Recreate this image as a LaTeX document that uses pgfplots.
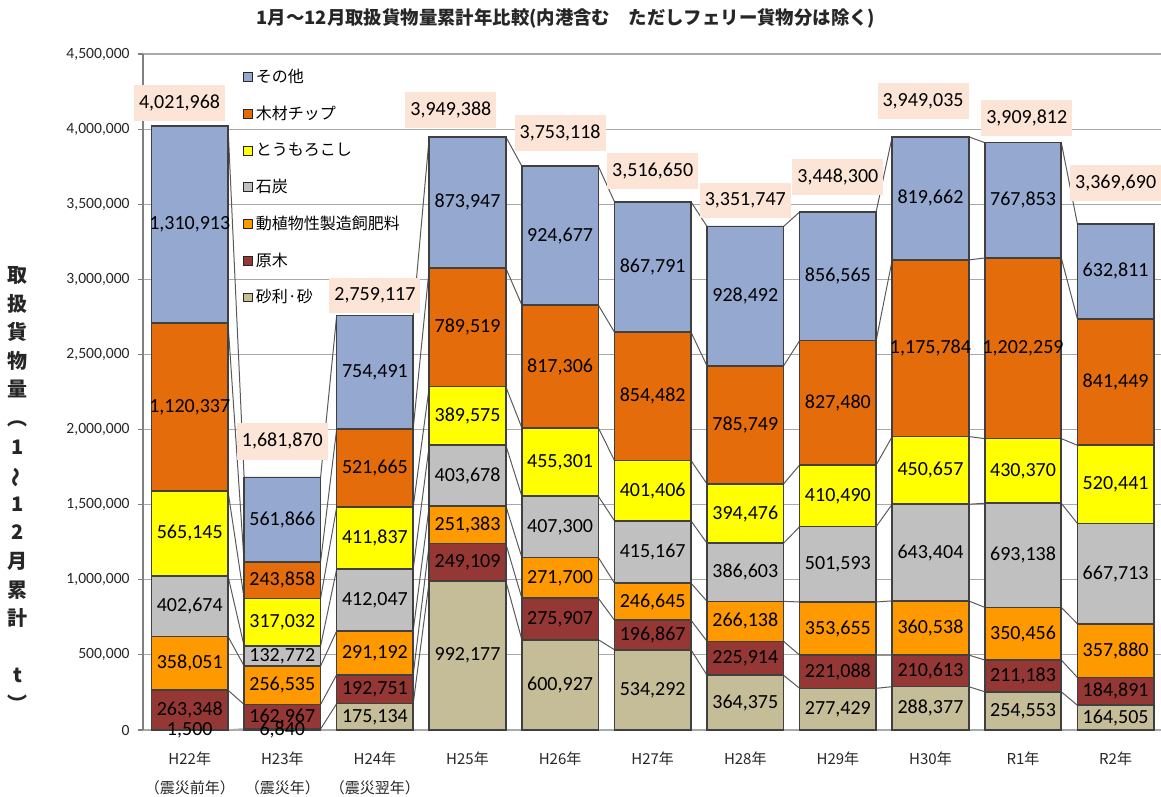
\documentclass[border=0pt]{standalone}
\usepackage{pgfplots}
\usepackage{pgfplotstable}
\usepackage{graphicx}
\usepackage{fontspec}
\pgfplotsset{compat=1.18}
\setmainfont{Carlito}
\newfontfamily\cjk{Noto Sans CJK JP}

\definecolor{cOther}{RGB}{148,168,208}
\definecolor{cChip}{RGB}{228,108,10}
\definecolor{cCorn}{RGB}{255,255,0}
\definecolor{cCoal}{RGB}{192,192,192}
\definecolor{cFeed}{RGB}{255,153,0}
\definecolor{cLog}{RGB}{149,55,53}
\definecolor{cSand}{RGB}{196,189,151}
\definecolor{cBox}{RGB}{252,228,214}
\definecolor{cEdge}{RGB}{64,64,64}
\definecolor{cGrid}{RGB}{170,170,170}
\definecolor{cConn}{RGB}{90,90,90}

\pgfkeys{/pgf/number format/.cd, fixed, precision=0, 1000 sep={,}, assume math mode=true}

% raw values, bottom to top: 砂利・砂, 原木, 動植物性製造飼肥料, 石炭, とうもろこし, 木材チップ, その他
\pgfplotstableread{
idx v1 v2 v3 v4 v5 v6 v7
0 1500 263348 358051 402674 565145 1120337 1310913
1 6840 162967 256535 132772 317032 243858 561866
2 175134 192751 291192 412047 411837 521665 754491
3 992177 249109 251383 403678 389575 789519 873947
4 600927 275907 271700 407300 455301 817306 924677
5 534292 196867 246645 415167 401406 854482 867791
6 364375 225914 266138 386603 394476 785749 928492
7 277429 221088 353655 501593 410490 827480 856565
8 288377 210613 360538 643404 450657 1175784 819662
9 254553 211183 350456 693138 430370 1202259 767853
10 164505 184891 357880 667713 520441 841449 632811
}\data

% cumulative tops at bar edges (series lines)
\pgfplotstableread{
x c1 c2 c3 c4 c5 c6 c7
-0.413 1500 264848 622899 1025573 1590718 2711055 4021968
0.413 1500 264848 622899 1025573 1590718 2711055 4021968
0.587 6840 169807 426342 559114 876146 1120004 1681870
1.413 6840 169807 426342 559114 876146 1120004 1681870
1.587 175134 367885 659077 1071124 1482961 2004626 2759117
2.413 175134 367885 659077 1071124 1482961 2004626 2759117
2.587 992177 1241286 1492669 1896347 2285922 3075441 3949388
3.413 992177 1241286 1492669 1896347 2285922 3075441 3949388
3.587 600927 876834 1148534 1555834 2011135 2828441 3753118
4.413 600927 876834 1148534 1555834 2011135 2828441 3753118
4.587 534292 731159 977804 1392971 1794377 2648859 3516650
5.413 534292 731159 977804 1392971 1794377 2648859 3516650
5.587 364375 590289 856427 1243030 1637506 2423255 3351747
6.413 364375 590289 856427 1243030 1637506 2423255 3351747
6.587 277429 498517 852172 1353765 1764255 2591735 3448300
7.413 277429 498517 852172 1353765 1764255 2591735 3448300
7.587 288377 498990 859528 1502932 1953589 3129373 3949035
8.413 288377 498990 859528 1502932 1953589 3129373 3949035
8.587 254553 465736 816192 1509330 1939700 3141959 3909812
9.413 254553 465736 816192 1509330 1939700 3141959 3909812
9.587 164505 349396 707276 1374989 1895430 2736879 3369690
10.413 164505 349396 707276 1374989 1895430 2736879 3369690
}\conn

\pgfplotstableread{
x y total
-0.11 4175000 4021968
1 1921000 1681870
2 2892000 2759117
2.82 4129000 3949388
4 3973000 3753118
5 3723000 3516650
6 3525000 3351747
7 3681000 3448300
7.92 4188000 3949035
9.04 4076000 3909812
10 3642000 3369690
}\totals

\pgfplotsset{
  base/.style={
    scale only axis, width=509pt, height=338pt,
    xmin=-0.505, xmax=10.49, ymin=0, ymax=4500000,
    enlargelimits=false, scaled y ticks=false, scaled x ticks=false,
    at={(0,0)}, anchor=south west,
  },
  seglabel/.style={
    draw=none, no marks, nodes near coords,
    point meta=explicit symbolic,
    nodes near coords={\pgfmathprintnumber{\pgfplotspointmeta}},
    every node near coord/.append style={anchor=center, font=\fontsize{10}{12}\selectfont, text=black, inner sep=0pt},
  },
}

\begin{document}
\begin{tikzpicture}
\useasboundingbox (-71.5pt,-33.5pt) rectangle (509pt,365pt);

% background: grid and series lines
\begin{axis}[base,
  ymajorgrids, grid style={cGrid, line width=0.6pt},
  ytick={0,500000,1000000,1500000,2000000,2500000,3000000,3500000,4000000,4500000},
  yticklabels={}, xtick=\empty,
  axis line style={draw=none}, tick style={draw=none},
]
\pgfplotsinvokeforeach{1,...,7}{
  \addplot[cConn, line width=0.5pt, no marks] table[x=x, y=c#1]{\conn};
}
\end{axis}

% bars, axes, legend
\begin{axis}[base,
  ybar stacked, bar width=0.826,
  axis x line*=bottom, axis y line*=left,
  x axis line style={cGrid, line width=1.2pt},
  y axis line style={black!50, line width=0.6pt},
  tick align=outside, major tick length=2.5pt,
  ytick={0,500000,1000000,1500000,2000000,2500000,3000000,3500000,4000000,4500000},
  ytick style={black!50, line width=0.6pt},
  yticklabel style={font=\fontsize{7.8}{9}\selectfont, text=black!85, anchor=east, inner sep=0pt, xshift=-4pt},
  xtick={0,1,2,3,4,5,6,7,8,9,10},
  xtick style={draw=none},
  xticklabels={{H22年\\（震災前年）},{H23年\\（震災年）},{H24年\\（震災翌年）},H25年,H26年,H27年,H28年,H29年,H30年,R1年,R2年},
  xticklabel style={font=\cjk\fontsize{7.5}{14.5}\selectfont, align=center, anchor=north, inner sep=0pt, yshift=-8pt, text=black!85},
  legend style={at={(0.092,0.99)}, anchor=north west, draw=none, fill=none,
    font=\cjk\fontsize{8}{9}\selectfont, row sep=6.2pt,
    nodes={inner xsep=1.5pt}},
  legend cell align=left, reverse legend,
  legend image code/.code={\draw[#1, draw=black!85, line width=0.5pt] (0pt,-2.2pt) rectangle (4.4pt,2.2pt);},
]
\addplot[fill=cSand, draw=cEdge, line width=0.8pt] table[x=idx, y=v1]{\data};
\addlegendentry{砂利·砂}
\addplot[fill=cLog, draw=cEdge, line width=0.8pt] table[x=idx, y=v2]{\data};
\addlegendentry{原木}
\addplot[fill=cFeed, draw=cEdge, line width=0.8pt] table[x=idx, y=v3]{\data};
\addlegendentry{動植物性製造飼肥料}
\addplot[fill=cCoal, draw=cEdge, line width=0.8pt] table[x=idx, y=v4]{\data};
\addlegendentry{石炭}
\addplot[fill=cCorn, draw=cEdge, line width=0.8pt] table[x=idx, y=v5]{\data};
\addlegendentry{とうもろこし}
\addplot[fill=cChip, draw=cEdge, line width=0.8pt] table[x=idx, y=v6]{\data};
\addlegendentry{木材チップ}
\addplot[fill=cOther, draw=cEdge, line width=0.8pt] table[x=idx, y=v7]{\data};
\addlegendentry{その他}
\end{axis}

% labels
\begin{axis}[base, hide axis, clip=false]
\addplot[seglabel] table[x=idx, y expr=\thisrow{v1}/2, meta=v1]{\data};
\addplot[seglabel] table[x=idx, y expr=\thisrow{v1}+\thisrow{v2}/2, meta=v2]{\data};
\addplot[seglabel] table[x=idx, y expr=\thisrow{v1}+\thisrow{v2}+\thisrow{v3}/2, meta=v3]{\data};
\addplot[seglabel] table[x=idx, y expr=\thisrow{v1}+\thisrow{v2}+\thisrow{v3}+\thisrow{v4}/2, meta=v4]{\data};
\addplot[seglabel] table[x=idx, y expr=\thisrow{v1}+\thisrow{v2}+\thisrow{v3}+\thisrow{v4}+\thisrow{v5}/2, meta=v5]{\data};
\addplot[seglabel] table[x=idx, y expr=\thisrow{v1}+\thisrow{v2}+\thisrow{v3}+\thisrow{v4}+\thisrow{v5}+\thisrow{v6}/2, meta=v6]{\data};
\addplot[seglabel] table[x=idx, y expr=\thisrow{v1}+\thisrow{v2}+\thisrow{v3}+\thisrow{v4}+\thisrow{v5}+\thisrow{v6}+\thisrow{v7}/2, meta=v7]{\data};
\addplot[seglabel, every node near coord/.append style={fill=cBox, inner xsep=2.5pt, inner ysep=5pt}] table[x=x, y=y, meta=total]{\totals};

\node[font=\cjk\bfseries\fontsize{9.2}{11}\selectfont, text=black!85] at (rel axis cs:0.4155,1.053)
  {1月～12月取扱貨物量累計年比較(内港含む　ただしフェリー貨物分は除く)};
\node[font=\cjk\bfseries\fontsize{10}{14.3}\selectfont, align=center, text=black!85, inner sep=0pt] at (rel axis cs:-0.1228,0.3565)
  {取\\扱\\貨\\物\\量\\︵\\1\\\rotatebox[origin=c]{90}{～}\\1\\2\\月\\累\\計\\[14.3pt]t\\︶};
\end{axis}
\end{tikzpicture}
\end{document}
